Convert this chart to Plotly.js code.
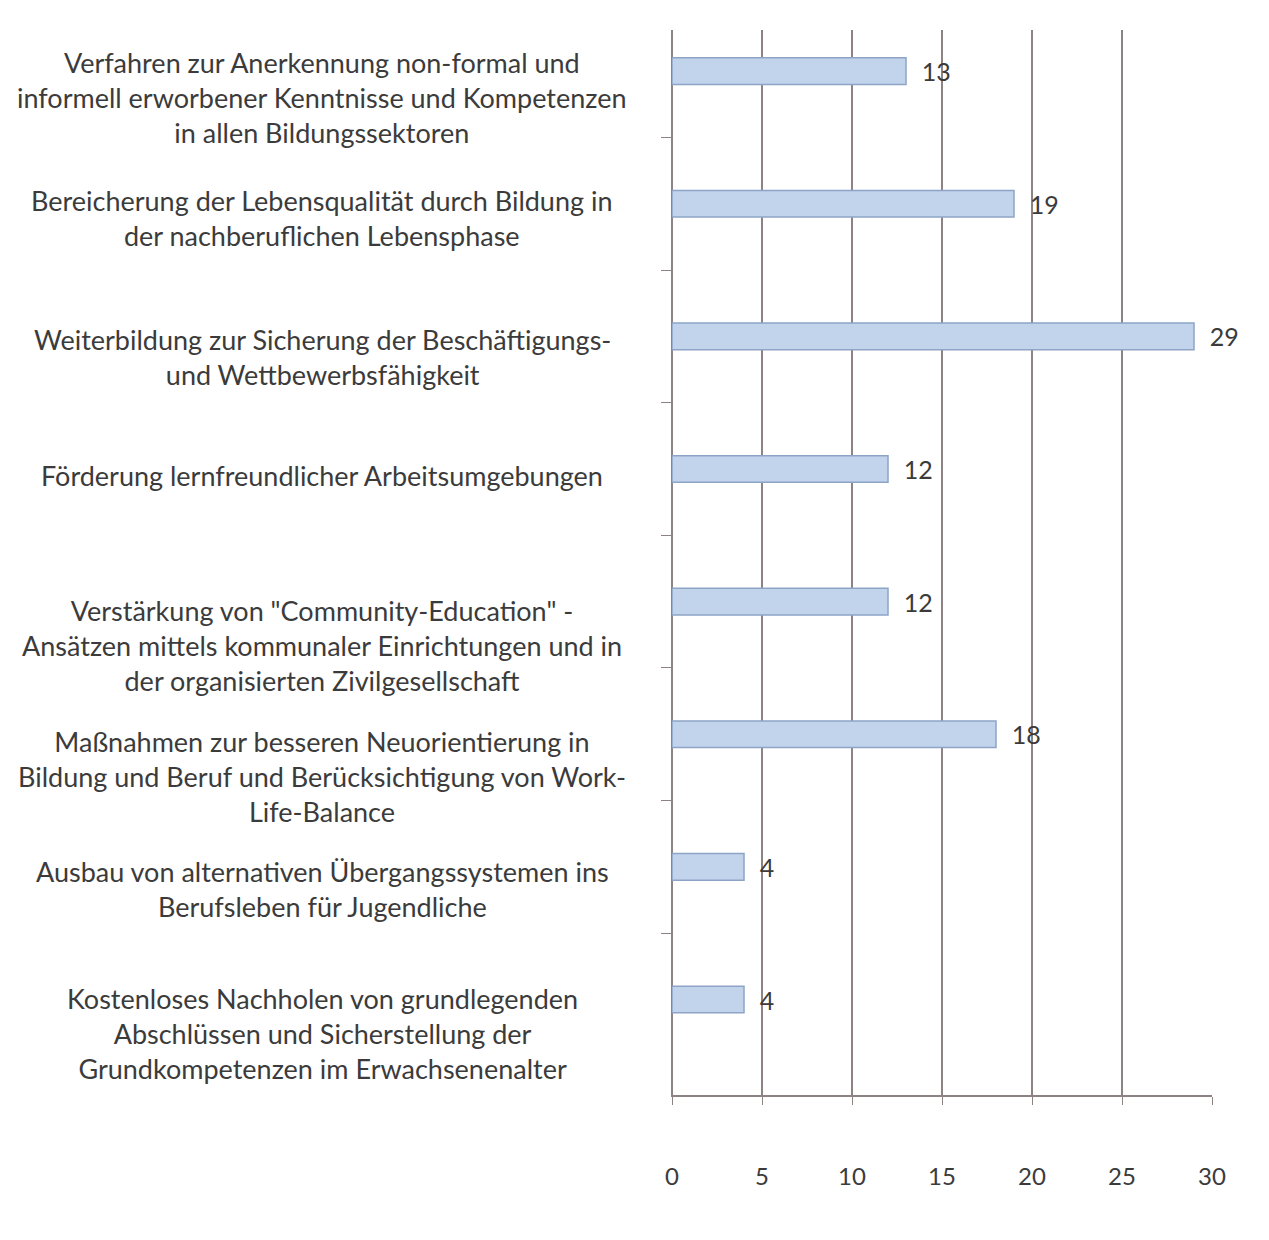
<!DOCTYPE html>
<html>
<head>
<meta charset="utf-8">
<script src="https://cdn.plot.ly/plotly-3.0.1.min.js"></script>
<style>html,body{margin:0;padding:0;background:#fff;}#chart{width:1269px;height:1240px;}</style>
</head>
<body>
<div id="chart"></div>
<script>
const categories = [
  "Verfahren zur Anerkennung non-formal und<br>informell erworbener Kenntnisse und Kompetenzen<br>in allen Bildungssektoren",
  "Bereicherung der Lebensqualität durch Bildung in<br>der nachberuflichen Lebensphase",
  "Weiterbildung zur Sicherung der Beschäftigungs-<br>und Wettbewerbsfähigkeit",
  "Förderung lernfreundlicher Arbeitsumgebungen",
  "Verstärkung von \"Community-Education\" -<br>Ansätzen mittels kommunaler Einrichtungen und in<br>der organisierten Zivilgesellschaft",
  "Maßnahmen zur besseren Neuorientierung in<br>Bildung und Beruf und Berücksichtigung von Work-<br>Life-Balance",
  "Ausbau von alternativen Übergangssystemen ins<br>Berufsleben für Jugendliche",
  "Kostenloses Nachholen von grundlegenden<br>Abschlüssen und Sicherstellung der<br>Grundkompetenzen im Erwachsenenalter"
];
const values = [13, 19, 29, 12, 12, 18, 4, 4];
const xTicks = [0, 5, 10, 15, 20, 25, 30];
const labelShift = [-26, -14, -21, -6, -44, -42, -22, -34];

const textColor = "#3b3b3b";
const fontFamily = "Lato, 'Open Sans', sans-serif";

const trace = {
  type: "bar",
  orientation: "h",
  x: values,
  y: categories,
  width: 0.2,
  texttemplate: "\u00a0\u00a0%{x}",
  textposition: "outside",
  constraintext: "none",
  cliponaxis: false,
  textfont: {family: fontFamily, size: 25, color: textColor},
  marker: {
    color: "#c2d4ec",
    line: {color: "#8da4c6", width: 1.5}
  },
  hoverinfo: "x+y"
};

const annotations = categories.map((c, i) => ({
  xref: "paper", yref: "y",
  x: -0.648, y: c,
  yshift: labelShift[i],
  text: c,
  showarrow: false,
  align: "center",
  xanchor: "center", yanchor: "middle",
  font: {family: fontFamily, size: 27, color: textColor}
}));

const layout = {
  width: 1269, height: 1240,
  margin: {l: 672, r: 57, t: 30, b: 145},
  paper_bgcolor: "#ffffff",
  plot_bgcolor: "#ffffff",
  showlegend: false,
  bargap: 0,
  xaxis: {
    range: [0, 30],
    tickvals: xTicks,
    ticktext: xTicks.map(String),
    showgrid: true,
    gridcolor: "#8e8383",
    gridwidth: 1.5,
    zeroline: true,
    zerolinecolor: "#8e8383",
    zerolinewidth: 1.5,
    showline: true,
    linecolor: "#8e8383",
    linewidth: 1.5,
    ticks: "outside",
    ticklen: 8,
    tickcolor: "#8e8383",
    ticklabelstandoff: 52,
    tickfont: {family: fontFamily, size: 24, color: textColor},
    fixedrange: true
  },
  yaxis: {
    type: "category",
    range: [7.72, -0.31],
    showticklabels: false,
    showline: true,
    linecolor: "#8e8383",
    linewidth: 1.5,
    ticks: "outside",
    tickson: "boundaries",
    ticklen: 10,
    tickcolor: "#8e8383",
    showgrid: false,
    fixedrange: true
  },
  annotations: annotations
};

Plotly.newPlot("chart", [trace], layout, {displayModeBar: false, staticPlot: true});
</script>
</body>
</html>
